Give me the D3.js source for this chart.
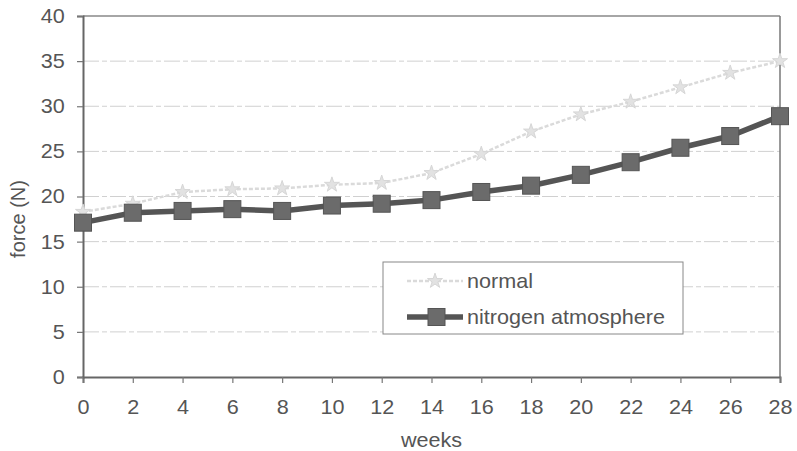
<!DOCTYPE html>
<html>
<head>
<meta charset="utf-8">
<script src="https://cdn.jsdelivr.net/npm/d3@7"></script>
<style>
  body { margin: 0; background: #fff; }
  text { font-family: "Liberation Sans", Arial, sans-serif; fill: #555; }
</style>
</head>
<body>
<svg id="chart"></svg>
<script>
/* data */
var weeks = [0, 2, 4, 6, 8, 10, 12, 14, 16, 18, 20, 22, 24, 26, 28];
var normal = [18.3, 19.2, 20.5, 20.8, 20.9, 21.3, 21.5, 22.6, 24.7, 27.2, 29.1, 30.5, 32.1, 33.7, 35.0];
var nitrogen = [17.1, 18.2, 18.4, 18.6, 18.4, 19.0, 19.2, 19.6, 20.5, 21.2, 22.4, 23.8, 25.4, 26.7, 28.9];
var yTicks = [0, 5, 10, 15, 20, 25, 30, 35, 40];
var seriesNames = ["normal", "nitrogen atmosphere"];

let width = 797;
let height = 451;
let margin = { top: 16, right: 17, bottom: 74, left: 83 };
let w = width - margin.left - margin.right;
let h = height - margin.top - margin.bottom;
let stretch = "scale(1.08,1)";
let fontSize = "20px";

let svg = d3.select("#chart").attr("width", width).attr("height", height);
let g = svg.append("g").attr("transform", `translate(${margin.left}, ${margin.top})`);

let xScale = d3.scaleLinear().domain([0, 28]).range([0, w]);
let yScale = d3.scaleLinear().domain([0, 40]).range([h, 0]);

/* gridlines */
g.selectAll(".grid")
 .data(yTicks.filter(d => d > 0 && d < 40))
 .join("line")
 .attr("x1", 0).attr("x2", w)
 .attr("y1", d => yScale(d)).attr("y2", d => yScale(d))
 .attr("stroke", "#d0d0d0")
 .attr("stroke-width", 1)
 .attr("stroke-dasharray", "16,3,5,3");

/* frame top / right */
g.append("line").attr("x1", 0).attr("x2", w).attr("y1", 0).attr("y2", 0)
 .attr("stroke", "#888").attr("stroke-width", 1.5);
g.append("line").attr("x1", w).attr("x2", w).attr("y1", 0).attr("y2", h)
 .attr("stroke", "#777").attr("stroke-width", 1.5);

/* axes */
let xAxis = g.append("g")
   .attr("transform", `translate(0, ${h})`)
   .call(d3.axisBottom(xScale).tickValues(weeks).tickSize(6).tickPadding(17));
let yAxis = g.append("g")
   .call(d3.axisLeft(yScale).tickValues(yTicks).tickSize(6).tickPadding(11));

[xAxis, yAxis].forEach(function(a){
    a.select(".domain").attr("stroke", "#666").attr("stroke-width", 2);
    a.selectAll(".tick line").attr("stroke", "#777").attr("stroke-width", 1.2);
    a.selectAll(".tick text")
     .style("font-size", fontSize)
     .style("font-family", "Liberation Sans, Arial, sans-serif")
     .attr("fill", "#555")
     .attr("transform", stretch);
});

/* axis titles */
svg.append("text")
   .attr("transform", `translate(${margin.left + w / 2}, 447) ${stretch}`)
   .attr("text-anchor", "middle")
   .style("font-size", fontSize)
   .text("weeks");

svg.append("text")
   .attr("transform", "translate(25, 219) rotate(-90)")
   .attr("text-anchor", "middle")
   .style("font-size", fontSize)
   .text("force (N)");

/* series */
let line = d3.line()
   .x((d, i) => xScale(weeks[i]))
   .y(d => yScale(d));

g.append("path")
 .datum(normal)
 .attr("d", line)
 .attr("fill", "none")
 .attr("stroke", "#dadada")
 .attr("stroke-width", 2.5)
 .attr("stroke-dasharray", "4,2");

g.selectAll(".normal-mark")
 .data(normal)
 .join("path")
 .attr("class", "normal-mark")
 .attr("transform", (d, i) => `translate(${xScale(weeks[i])}, ${yScale(d)})`)
 .attr("d", d3.symbol().type(d3.symbolStar).size(70))
 .attr("fill", "#e2e2e2")
 .attr("stroke", "#d6d6d6")
 .attr("stroke-width", 1);

g.append("path")
 .datum(nitrogen)
 .attr("d", line)
 .attr("fill", "none")
 .attr("stroke", "#555")
 .attr("stroke-width", 5.5);

let sq = 17;
g.selectAll(".nit-mark")
 .data(nitrogen)
 .join("rect")
 .attr("class", "nit-mark")
 .attr("x", (d, i) => xScale(weeks[i]) - sq / 2)
 .attr("y", d => yScale(d) - sq / 2)
 .attr("width", sq)
 .attr("height", sq)
 .attr("fill", "#6b6b6b")
 .attr("stroke", "#555")
 .attr("stroke-width", 1);

/* legend */
let legend = svg.append("g").attr("transform", "translate(383, 262)");
legend.append("rect")
      .attr("width", 300).attr("height", 72)
      .attr("fill", "#fff")
      .attr("stroke", "#888").attr("stroke-width", 1);

legend.append("line")
      .attr("x1", 24).attr("x2", 80).attr("y1", 19).attr("y2", 19)
      .attr("stroke", "#dadada").attr("stroke-width", 2.5)
      .attr("stroke-dasharray", "4,2");
legend.append("path")
      .attr("transform", "translate(52, 19)")
      .attr("d", d3.symbol().type(d3.symbolStar).size(70))
      .attr("fill", "#e2e2e2").attr("stroke", "#d6d6d6");

legend.append("line")
      .attr("x1", 24).attr("x2", 80).attr("y1", 55).attr("y2", 55)
      .attr("stroke", "#555").attr("stroke-width", 5.5);
legend.append("rect")
      .attr("x", 45).attr("y", 55 - sq / 2)
      .attr("width", sq).attr("height", sq)
      .attr("fill", "#6b6b6b").attr("stroke", "#555");

legend.selectAll(".legend-label")
      .data(seriesNames)
      .join("text")
      .attr("class", "legend-label")
      .attr("transform", (d, i) => `translate(84, ${26 + i * 36}) ${stretch}`)
      .style("font-size", fontSize)
      .text(d => d);
</script>
</body>
</html>
